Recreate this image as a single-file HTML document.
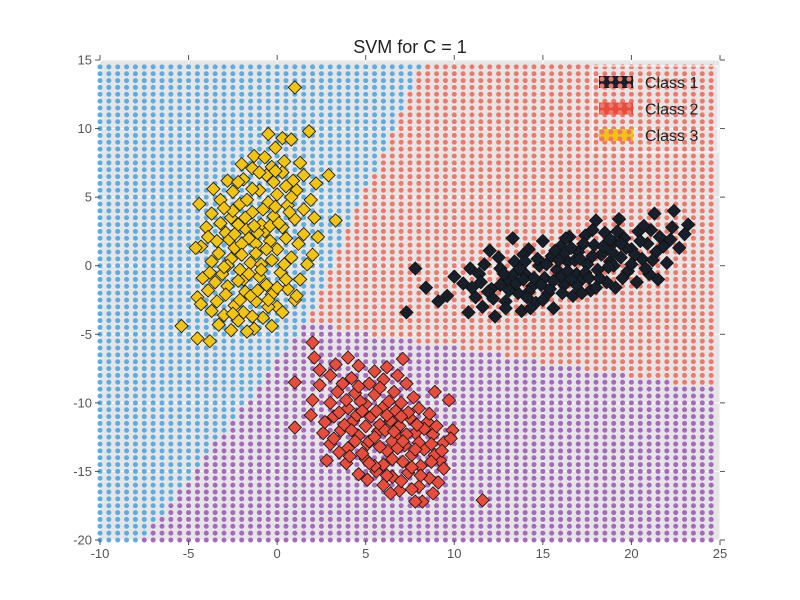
<!DOCTYPE html>
<html><head><meta charset="utf-8"><style>
body{margin:0;background:#fff;}
svg{display:block;font-family:"Liberation Sans","DejaVu Sans",sans-serif;}
</style></head><body>
<svg id="chart" width="800" height="600">
<text x="410" y="53" text-anchor="middle" font-size="18" fill="#222">SVM for C = 1</text>
<g id="plot"></g>
</svg>
<script>
const xTicks=[-10,-5,0,5,10,15,20,25];
const yTicks=[15,10,5,0,-5,-10,-15,-20];
const regionJunction=[1.6,-4.2];
const boundaryBlueRed=[8.3,15];
const boundaryBluePurple=[-7.6,-20];
const boundaryRedPurple=[25,-9.1];
const class1=[[7.8,-0.2],[7.3,-3.4],[8.4,-1.6],[9.1,-2.6],[9.6,-2.2],[10.0,-0.8],[10.5,-1.3],[10.8,-3.4],[11.2,-2.3],[11.4,-0.6],[11.6,-3.0],[12.0,1.1],[12.1,-1.7],[12.3,-3.7],[12.6,-0.2],[12.9,-2.6],[13.0,-1.0],[13.3,2.0],[13.4,0.3],[13.6,-2.0],[13.8,-3.3],[14.0,-0.6],[14.2,1.2],[14.4,-1.5],[14.6,-2.7],[14.8,0.0],[15.0,1.8],[15.1,-0.9],[15.3,-2.0],[15.5,0.7],[15.6,-3.1],[15.8,-0.3],[16.0,1.4],[16.2,-1.4],[16.4,0.3],[16.5,2.1],[16.7,-2.2],[16.9,-0.6],[17.0,1.0],[17.2,-1.0],[17.4,2.2],[17.5,0.1],[17.7,-1.8],[17.9,1.5],[18.0,3.3],[18.1,-0.3],[18.3,0.8],[18.5,2.4],[18.6,-1.2],[18.8,0.3],[19.0,1.7],[19.1,-1.6],[19.3,3.4],[19.4,0.6],[19.6,2.0],[19.8,-0.4],[20.0,1.2],[20.3,-1.2],[20.4,2.5],[20.6,0.5],[20.9,1.6],[21.0,-0.6],[21.3,3.8],[21.4,1.0],[21.6,2.1],[21.5,-1.0],[22.0,0.2],[22.2,1.9],[22.4,4.0],[22.7,1.3],[23.0,2.3],[23.2,3.0],[14.2,-1.9],[16.0,-0.8],[12.6,-1.4],[13.9,0.8],[15.4,-1.7],[17.4,-0.5],[18.8,1.9],[20.2,0.8],[16.8,0.4],[11.9,-1.9],[13.3,-0.7],[14.7,0.5],[16.2,0.9],[19.0,0.0],[21.2,0.4],
[11.0,-1.6],[11.5,-1.2],[12.2,-2.4],[12.8,-0.6],[13.1,-1.8],[13.5,-1.3],[13.7,-0.2],[14.1,-2.3],[14.5,-0.9],[14.9,-1.4],[15.2,0.1],[15.6,-1.1],[15.9,0.4],[16.1,-2.0],[16.4,-0.4],[16.6,1.3],[16.9,-1.4],[17.1,0.5],[17.3,1.6],[17.6,-0.9],[17.8,0.7],[18.2,-0.9],[18.4,1.4],[18.7,-0.1],[18.9,1.0],[19.2,2.5],[19.5,-0.9],[19.7,1.3],[20.0,0.1],[20.5,1.8],[20.8,-0.2],[21.1,2.6],[21.8,1.4],[22.3,2.8],[14.0,0.3],[15.0,-2.5],[16.3,2.0],[17.8,2.6],[12.5,0.6],[13.9,-1.0],[15.7,1.1],[17.2,-2.0],[19.4,1.6],[20.7,2.9],[18.0,-1.6],[14.3,-3.1],[12.9,-3.1],[11.7,0.1],[10.9,-0.2],[16.6,-1.0]];
const class2=[[2.0,-5.6],[2.1,-6.7],[4.0,-6.7],[7.1,-6.8],[1.0,-8.5],[2.4,-7.6],[3.3,-7.2],[4.6,-7.3],[5.5,-7.7],[6.2,-7.4],[3.0,-8.0],[4.2,-8.2],[5.2,-8.6],[6.0,-8.3],[7.3,-8.6],[2.4,-8.7],[3.4,-9.2],[4.4,-9.3],[5.5,-9.4],[6.6,-9.2],[7.7,-9.6],[8.9,-9.2],[2.0,-9.8],[3.0,-10.0],[4.0,-10.4],[5.0,-10.1],[6.0,-10.3],[7.0,-10.0],[8.0,-10.4],[9.7,-9.8],[1.9,-10.9],[3.2,-11.0],[4.3,-11.3],[5.3,-11.0],[6.4,-11.3],[7.5,-11.1],[8.5,-11.4],[1.0,-11.8],[2.6,-12.2],[3.6,-12.0],[4.6,-12.4],[5.7,-12.1],[6.8,-12.4],[7.8,-12.2],[8.8,-12.3],[9.9,-12.0],[3.0,-13.0],[4.0,-13.3],[5.1,-13.0],[6.2,-13.5],[7.2,-13.1],[8.3,-13.4],[9.4,-12.9],[2.8,-14.2],[3.9,-14.4],[5.0,-14.1],[6.0,-14.5],[7.1,-14.3],[8.1,-14.6],[9.2,-14.2],[4.6,-15.2],[5.6,-15.0],[6.5,-15.4],[7.4,-15.1],[8.6,-15.5],[9.4,-14.8],[6.0,-16.0],[6.9,-16.4],[8.0,-16.1],[8.8,-16.6],[8.2,-17.2],[7.8,-17.2],[11.6,-17.1],[9.8,-12.6],[4.5,-10.9],[5.8,-11.6],[6.9,-11.7],[5.2,-12.8],[6.5,-12.8],[7.6,-13.8],[4.8,-13.7],[3.5,-10.7],[8.3,-11.9],[6.3,-9.9],[7.4,-10.7],[5.5,-14.6],[8.7,-13.0],[3.8,-11.6],
[3.9,-9.8],[4.7,-9.9],[5.6,-10.6],[6.7,-10.6],[7.9,-11.6],[4.2,-12.0],[5.0,-11.7],[6.1,-12.0],[7.3,-12.3],[8.0,-12.9],[4.4,-12.8],[5.8,-13.2],[6.8,-13.3],[7.8,-13.4],[8.9,-13.8],[4.1,-13.9],[5.2,-14.4],[6.5,-14.1],[7.6,-14.7],[8.7,-14.3],[5.1,-15.6],[6.2,-15.3],[7.0,-15.7],[8.1,-15.3],[3.2,-12.6],[3.5,-13.6],[4.8,-10.6],[6.2,-10.9],[7.0,-11.0],[8.6,-10.8],[9.0,-11.7],[9.3,-13.5],[5.5,-12.5],[6.6,-12.1],[7.1,-12.8],[4.6,-8.8],[5.8,-8.9],[6.8,-8.0],[3.7,-8.6],[2.7,-11.4],[9.1,-15.8],[7.6,-16.3],[6.4,-16.6]];
const class3=[[1.0,13.0],[-0.5,9.6],[0.3,9.3],[1.8,9.8],[0.8,9.2],[-1.3,8.0],[-0.7,7.9],[0.4,7.6],[-0.1,8.6],[2.9,6.6],[1.3,7.5],[-2.0,7.4],[-1.4,7.1],[0.3,6.8],[-0.6,6.6],[-2.8,6.2],[-1.9,6.3],[-0.2,6.1],[0.9,6.2],[2.2,6.0],[-3.6,5.6],[-2.5,5.4],[-1.0,5.5],[0.0,5.2],[1.1,5.5],[-4.4,4.5],[-3.2,4.8],[-2.1,4.5],[-0.5,4.6],[0.6,4.4],[1.9,4.8],[3.3,3.3],[-3.7,3.8],[-2.6,3.5],[-1.4,3.9],[-0.2,3.6],[1.0,3.4],[2.1,3.5],[-4.0,2.8],[-2.9,2.4],[-1.8,2.7],[-0.7,2.5],[0.3,2.8],[1.5,2.3],[-4.3,1.4],[-3.4,1.8],[-2.4,1.3],[-1.2,1.6],[0.0,1.2],[1.2,1.6],[2.0,0.8],[-4.6,1.3],[-3.7,0.3],[-2.6,0.5],[-1.5,0.2],[-0.3,0.4],[0.8,0.6],[1.7,0.1],[-4.2,-0.9],[-3.1,-0.6],[-2.1,-0.3],[-1.0,-0.8],[0.2,-0.5],[1.3,-1.0],[-3.9,-1.8],[-2.8,-1.5],[-1.8,-1.9],[-0.6,-1.4],[0.6,-1.7],[1.0,-2.5],[-4.5,-2.3],[-3.4,-2.6],[-2.4,-2.9],[-1.2,-2.6],[0.0,-3.0],[1.1,-2.2],[-4.3,-2.8],[-3.0,-3.6],[-1.9,-3.4],[-0.8,-3.8],[0.3,-3.4],[-3.3,-4.3],[-2.2,-4.0],[-1.3,-4.6],[-0.3,-4.4],[-5.4,-4.4],[-4.5,-5.3],[-3.8,-5.5],[-2.6,-4.7],[-1.7,-4.8],[-0.8,4.1],[-1.6,2.0],[-2.2,3.0],[-0.4,1.8],[-1.9,-1.0],[-0.9,3.0],[0.5,5.8],[2.3,2.1],[-2.8,0.0],
[-3.2,3.1],[-2.5,4.0],[-1.7,4.8],[-1.1,2.4],[-0.1,4.3],[0.7,3.9],[-0.4,2.9],[0.5,2.0],[-1.8,3.5],[-2.7,1.9],[-3.3,0.9],[-2.0,1.6],[-1.2,0.9],[-0.6,1.2],[0.4,0.1],[-0.9,0.1],[-2.2,-1.1],[-3.5,-1.2],[-2.9,-2.1],[-1.5,-2.2],[-0.3,-2.1],[0.5,-1.0],[-1.1,-1.8],[-2.1,-2.5],[-3.7,-3.3],[-2.5,-3.5],[-1.4,-3.7],[-0.5,-3.0],[-0.9,-0.3],[-2.4,2.3],[-1.4,5.6],[-2.2,6.1],[-0.3,7.2],[0.8,5.0],[1.5,4.1],[-3.0,4.2],[-3.9,2.1],[-3.0,-0.1],[-1.6,-0.6],[0.0,-1.6],[-0.1,6.9],[-1.0,6.8],[1.5,6.6],[0.1,3.1],[-1.3,2.9],[-2.0,0.8],[-3.8,-0.5],[-0.5,-2.5]];
const seriesNames=["Class 1","Class 2","Class 3"];

const NS="http://www.w3.org/2000/svg";
const X0=100,X1=720,Y0=60,Y1=540,xMin=-10,xMax=25,yMin=-20,yMax=15;
const sx=v=>X0+(v-xMin)/(xMax-xMin)*(X1-X0);
const sy=v=>Y1-(v-yMin)/(yMax-yMin)*(Y1-Y0);
const g=document.getElementById('plot');
function mk(t,a,p){const e=document.createElementNS(NS,t);for(const k in a)e.setAttribute(k,a[k]);(p||g).appendChild(e);return e;}

const bg=mk('rect',{x:X0,y:Y0,width:X1-X0,height:Y1-Y0,fill:'#e5e5e5'});


const grid=mk('g',{});


xTicks.forEach(t=>mk('line',{x1:sx(t),x2:sx(t),y1:Y0,y2:Y1,stroke:'#fff','stroke-width':1},grid));
yTicks.forEach(t=>mk('line',{x1:X0,x2:X1,y1:sy(t),y2:sy(t),stroke:'#fff','stroke-width':1},grid));

const ang=(p)=>{let a=Math.atan2(p[1]-regionJunction[1],p[0]-regionJunction[0])*180/Math.PI;return (a+360)%360;};
const aBR=ang(boundaryBlueRed),aBP=ang(boundaryBluePurple),aRP=ang(boundaryRedPurple);
const regionColors={red:'#f0786b',blue:'#5dade2',purple:'#a569bd'};
const regions=mk('g',{});


for(let xv=-10;xv<24.99;xv+=0.5){for(let yv=-20;yv<14.99;yv+=0.5){
  const a=ang([xv,yv]);let c;
  if(a>=aRP||a<aBR)c='red';else if(a<aBP)c='blue';else c='purple';
  mk('circle',{cx:sx(xv),cy:sy(yv),r:2.5,fill:regionColors[c]},regions);
}}

function diamond(x,y,fill,p){const r=6.6;return mk('polygon',{points:`${x},${y-r} ${x+r},${y} ${x},${y+r} ${x-r},${y}`,fill:fill,stroke:'#111','stroke-width':0.8},p);}
[[class1,'#17202a','class-1'],[class2,'#e74c3c','class-2'],[class3,'#f1c40f','class-3']].forEach(([arr,col,nm])=>{
  const sg=mk('g',{});
  
  
  arr.forEach(p=>{const d=diamond(sx(p[0]),sy(p[1]),col,sg);
    
    });
});

const ax=mk('g',{});


xTicks.forEach(t=>{const x=sx(t);
  mk('line',{x1:x,x2:x,y1:Y1,y2:Y1+5,stroke:'#555'},ax);
  mk('line',{x1:x,x2:x,y1:Y0,y2:Y0-5,stroke:'#555'},ax);
  const tx=mk('text',{x:x,y:Y1+18,'text-anchor':'middle','font-size':13,fill:'#555'},ax);tx.textContent=t;
  
  });
yTicks.forEach(t=>{const y=sy(t);
  mk('line',{x1:X0-5,x2:X0,y1:y,y2:y,stroke:'#555'},ax);
  mk('line',{x1:X1,x2:X1+5,y1:y,y2:y,stroke:'#555'},ax);
  const tx=mk('text',{x:X0-8,y:y+4.5,'text-anchor':'end','font-size':13,fill:'#555'},ax);tx.textContent=t;
  
  });

const lg=mk('g',{});


mk('rect',{x:593,y:66,width:125,height:86,fill:'none',stroke:'#fff','stroke-width':1},lg);
const lcol=['#17202a','#e74c3c','#f1c40f'];
seriesNames.forEach((n,i)=>{const y=82+i*26.5;
  const e=mk('g',{},lg);
  
  
  mk('rect',{x:599,y:y-6,width:34,height:12,fill:lcol[i]},e);
  for(let k=0;k<4;k++)for(let j=0;j<2;j++)mk('circle',{cx:602+k*9,cy:y-3+j*7,r:2.5,fill:'#f0786b'},e);
  const t=mk('text',{x:645,y:y+6,'font-size':16,fill:'#222'},e);t.textContent=n;});
</script>
</body></html>
